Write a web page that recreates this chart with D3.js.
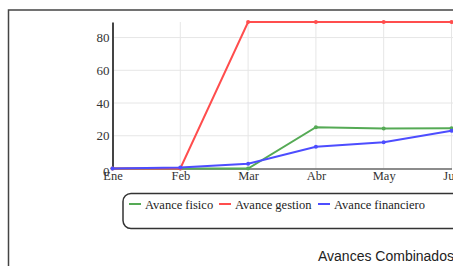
<!DOCTYPE html>
<html>
<head>
<meta charset="utf-8">
<script src="https://cdn.jsdelivr.net/npm/d3@7"></script>
<style>
  body { margin: 0; background: #fff; }
  svg { display: block; }
</style>
</head>
<body>
<div id="chart"></div>
<script>
// Data
const months = ['Ene', 'Feb', 'Mar', 'Abr', 'May', 'Jun'];
const avanceFisico = [0, 0, 0, 25.2, 24.4, 24.6];
const avanceGestion = [0, 0, 89.5, 89.5, 89.5, 89.5];
const avanceFinanciero = [0, 0.6, 2.9, 13.3, 16, 23];
const yTicks = [0, 20, 40, 60, 80];
const seriesNames = ['Avance fisico', 'Avance gestion', 'Avance financiero'];
const seriesColors = ['#55aa55', '#ff4d4d', '#4d4dff'];

const W = 453, H = 266;
const svg = d3.select('#chart').append('svg')
    .attr('width', W)
    .attr('height', H);

// outer frame (continues past the right edge)
svg.append('rect')
    .attr('x', 8.5).attr('y', 10)
    .attr('width', 480).attr('height', 300)
    .attr('fill', '#fff')
    .attr('stroke', '#444')
    .attr('stroke-width', 1.5);

const x = d3.scalePoint().domain(months).range([112.5, 451.5]);
const y = d3.scaleLinear().domain([0, 89.5]).range([168.5, 22]);

// grid
svg.append('g').selectAll('line.vg')
    .data(months.slice(1))
    .enter().append('line')
    .attr('x1', d => x(d)).attr('x2', d => x(d))
    .attr('y1', y(89.5)).attr('y2', y(0))
    .attr('stroke', '#e6e6e6').attr('stroke-width', 1);

svg.append('g').selectAll('line.hg')
    .data(yTicks.slice(1))
    .enter().append('line')
    .attr('x1', x('Ene')).attr('x2', W)
    .attr('y1', d => y(d)).attr('y2', d => y(d))
    .attr('stroke', '#e6e6e6').attr('stroke-width', 1);

// axes
const yAxis = svg.append('g')
    .attr('transform', `translate(${x('Ene')},0)`)
    .call(d3.axisLeft(y).tickValues(yTicks).tickSize(0).tickPadding(3));
yAxis.select('.domain').attr('stroke', '#444').attr('stroke-width', 2);
yAxis.selectAll('text')
    .style('font-family', '"Liberation Serif", serif')
    .style('font-size', '13px')
    .attr('fill', '#333')
    .attr('dy', d => d === 0 ? '0.5em' : '0.32em');

const xAxis = svg.append('g')
    .attr('transform', `translate(0,${y(0)})`)
    .call(d3.axisBottom(x).tickSize(0).tickPadding(3));
xAxis.select('.domain').attr('stroke', '#666').attr('stroke-width', 1.5);
xAxis.selectAll('text')
    .style('font-family', '"Liberation Serif", serif')
    .style('font-size', '12.5px')
    .attr('fill', '#333');

// lines
const line = d3.line()
    .x((d, i) => x(months[i]))
    .y(d => y(d));

[avanceFisico, avanceGestion, avanceFinanciero].forEach((values, k) => {
    svg.append('path')
        .datum(values)
        .attr('fill', 'none')
        .attr('stroke', seriesColors[k])
        .attr('stroke-width', 2)
        .attr('d', line);
    svg.append('g').selectAll('circle')
        .data(values)
        .enter().append('circle')
        .attr('cx', (d, i) => x(months[i]))
        .attr('cy', d => y(d))
        .attr('r', 2)
        .attr('fill', seriesColors[k]);
});

// legend
const legend = svg.append('g');
legend.append('rect')
    .attr('x', 123).attr('y', 193.5)
    .attr('width', 400).attr('height', 35)
    .attr('rx', 8).attr('ry', 8)
    .attr('fill', '#fff')
    .attr('stroke', '#333')
    .attr('stroke-width', 1.5);

const legendX = [129, 219, 318];
seriesNames.forEach((name, k) => {
    legend.append('line')
        .attr('x1', legendX[k]).attr('x2', legendX[k] + 12)
        .attr('y1', 204).attr('y2', 204)
        .attr('stroke', seriesColors[k])
        .attr('stroke-width', 2);
    legend.append('text')
        .attr('x', legendX[k] + 16)
        .attr('y', 208.5)
        .style('font-family', '"Liberation Serif", serif')
        .style('font-size', '12.5px')
        .attr('fill', '#222')
        .text(name);
});

// title
svg.append('text')
    .attr('x', 318)
    .attr('y', 261)
    .style('font-family', '"Liberation Sans", Arial, sans-serif')
    .style('font-size', '14px')
    .attr('fill', '#222')
    .text('Avances Combinados');
</script>
</body>
</html>
